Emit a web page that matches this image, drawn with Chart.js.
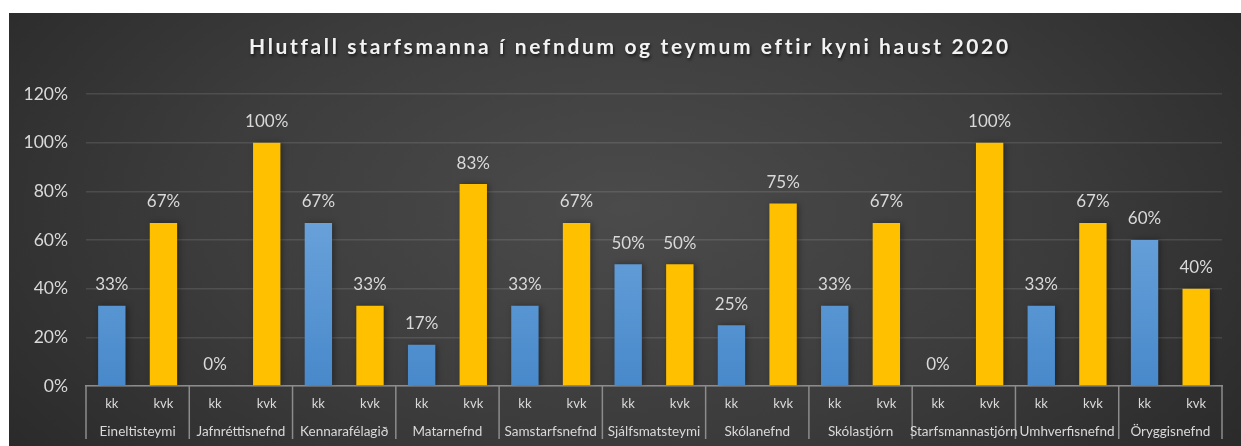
<!DOCTYPE html>
<html>
<head>
<meta charset="utf-8">
<script src="https://cdn.jsdelivr.net/npm/chart.js@4"></script>
<style>
  html, body { margin: 0; padding: 0; background: #fff; }
  #wrap {
    position: absolute; left: 9px; top: 13px; width: 1232px; height: 433px;
    background: radial-gradient(ellipse 62% 95% at 50% 45%, #4b4b4b 0%, #3c3c3c 55%, #2a2a2a 100%);
  }
  canvas { display: block; }
</style>
</head>
<body>
<div id="wrap"><canvas id="chart" width="1232" height="433"></canvas></div>
<script>
const TITLE = 'Hlutfall starfsmanna í nefndum og teymum eftir kyni haust 2020'
const GROUPS = ['Eineltisteymi', 'Jafnréttisnefnd', 'Kennarafélagið', 'Matarnefnd', 'Samstarfsnefnd', 'Sjálfsmatsteymi', 'Skólanefnd', 'Skólastjórn', 'Starfsmannastjórn', 'Umhverfisnefnd', 'Öryggisnefnd']
const SUB_LABELS = ['kk', 'kvk']
const KK = [33, 0, 67, 17, 33, 50, 25, 33, 0, 33, 60]
const KVK = [67, 100, 33, 83, 67, 50, 75, 67, 100, 67, 40]
const Y_MAX = 120
const Y_STEP = 20

const TXT = '#d9d9d9'
const FONT = 'Lato, "Noto Sans", sans-serif'

function blueGrad(ctx) {
  const area = ctx.chart.chartArea
  if (!area) return '#5b9bd5'
  const g = ctx.chart.ctx.createLinearGradient(0, area.top + 60, 0, area.bottom)
  g.addColorStop(0, '#76abe0')
  g.addColorStop(1, '#4889cb')
  return g
}

const titlePlugin = {
  id: 'titleDraw',
  afterDraw(chart) {
    const c = chart.ctx
    c.save()
    c.font = 'bold 21px ' + FONT
    // spread the title over the same width as in the original
    const w = c.measureText(TITLE).width
    c.letterSpacing = Math.max(0, (758 - w) / (TITLE.length - 1)) + 'px'
    c.textAlign = 'left'
    c.textBaseline = 'middle'
    c.shadowColor = 'rgba(0,0,0,0.6)'
    c.shadowBlur = 3
    c.shadowOffsetX = 1
    c.shadowOffsetY = 2
    c.fillStyle = '#f2f2f2'
    c.fillText(TITLE, 240, 34)
    c.restore()
  }
}

const barShadow = {
  id: 'barShadow',
  beforeDatasetsDraw(chart) {
    const c = chart.ctx
    c.save()
    c.shadowColor = 'rgba(0,0,0,0.35)'
    c.shadowBlur = 6
    c.shadowOffsetX = 2
    c.shadowOffsetY = 0
  },
  afterDatasetsDraw(chart) {
    chart.ctx.restore()
    const c = chart.ctx
    c.save()
    c.font = '17px ' + FONT
    c.fillStyle = TXT
    c.textAlign = 'center'
    c.textBaseline = 'middle'
    chart.data.datasets.forEach((ds, di) => {
      chart.getDatasetMeta(di).data.forEach((bar, i) => {
        c.fillText(ds.data[i] + '%', bar.x, bar.y - 21)
      })
    })
    c.restore()
  }
}

const xAxisPlugin = {
  id: 'xAxisDraw',
  afterDraw(chart) {
    const x = chart.scales.x
    const c = chart.ctx
    const y0 = x.top
    const w = x.width / GROUPS.length
    c.save()
    c.strokeStyle = '#8c8c8c'
    c.lineWidth = 1.5
    c.beginPath()
    for (let i = 0; i <= GROUPS.length; i++) {
      const px = x.left + i * w
      c.moveTo(px, y0)
      c.lineTo(px, y0 + 53)
    }
    c.stroke()
    c.fillStyle = TXT
    c.textAlign = 'center'
    c.textBaseline = 'middle'
    GROUPS.forEach((g, i) => {
      const cx = x.getPixelForValue(i)
      c.font = '13px ' + FONT
      c.fillText(SUB_LABELS[0], cx - w / 4, y0 + 18)
      c.fillText(SUB_LABELS[1], cx + w / 4, y0 + 18)
      c.font = '13.5px ' + FONT
      c.fillText(g, cx, y0 + 46)
    })
    c.restore()
  }
}

new Chart(document.getElementById('chart'), {
  type: 'bar',
  data: {
    labels: GROUPS,
    datasets: [
      { label: 'kk', data: KK, backgroundColor: blueGrad, borderWidth: 0, categoryPercentage: 1, barPercentage: 0.53 },
      { label: 'kvk', data: KVK, backgroundColor: '#ffc000', borderWidth: 0, categoryPercentage: 1, barPercentage: 0.53 }
    ]
  },
  options: {
    responsive: false,
    animation: false,
    layout: { padding: { top: 81, right: 19, bottom: 0, left: 0 } },
    plugins: { legend: { display: false }, title: { display: false }, tooltip: { enabled: false } },
    scales: {
      x: {
        grid: { display: false },
        border: { display: true, color: '#8c8c8c', width: 1.5 },
        ticks: { display: false },
        afterFit(s) { s.height = 60 }
      },
      y: {
        min: 0, max: Y_MAX,
        border: { display: false },
        grid: { color: 'rgba(255,255,255,0.11)', lineWidth: 1.5, drawTicks: false },
        ticks: {
          stepSize: Y_STEP, padding: 18, color: TXT,
          font: { size: 17.5, family: FONT },
          callback: v => v + '%'
        },
        afterFit(s) { s.width = 77 }
      }
    }
  },
  plugins: [titlePlugin, barShadow, xAxisPlugin]
})
</script>
</body>
</html>
